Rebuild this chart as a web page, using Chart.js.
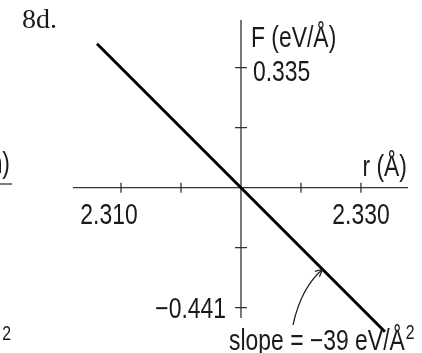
<!DOCTYPE html>
<html>
<head>
<meta charset="utf-8">
<script src="https://cdn.jsdelivr.net/npm/chart.js@4"></script>
<style>
  html, body { margin: 0; padding: 0; background: #fff; }
  #wrap { width: 422px; height: 353px; position: relative; }
</style>
</head>
<body>
<div id="wrap"><canvas id="chart"></canvas></div>
<script>
// data of the straight line F(r) near r0
const rValues = [2.308, 2.332];
const fValues = [0.468, -0.468];

// tick positions and labels
const xTicks = [2.310, 2.315, 2.325, 2.330];
const xTickLabels = ['2.310', '', '', '2.330'];
const yTicks = [0.39, 0.195, -0.195, -0.39];
const yTickLabels = ['0.335', '', '', '\u22120.441'];

// point on the line where the slope arrow lands
const arrowR = 2.3268;

const FONT = '"Liberation Sans", Arial, sans-serif';
const INK = '#1a1a1a';
const NARROW = 0.79; // squeeze Liberation Sans to look like a condensed face

// draw text squeezed horizontally, returns drawn width
function narrowText(ctx, txt, px, py, size, align) {
    ctx.save();
    ctx.font = size + 'px ' + FONT;
    ctx.textAlign = align || 'left';
    ctx.translate(px, py);
    ctx.scale(NARROW, 1);
    ctx.fillText(txt, 0, 0);
    const w = ctx.measureText(txt).width * NARROW;
    ctx.restore();
    return w;
}

// axes drawn through the origin, with ticks crossing both sides
const axesPlugin = {
    id: 'axes',
    beforeDatasetsDraw(chart) {
        const { ctx, chartArea: a, scales: { x, y } } = chart;
        const x0 = x.getPixelForValue(2.320);
        const y0 = y.getPixelForValue(0);
        ctx.save();
        ctx.strokeStyle = '#333';
        ctx.lineWidth = 1.3;
        ctx.beginPath();
        ctx.moveTo(a.left, y0); ctx.lineTo(a.right, y0);
        ctx.moveTo(x0, a.top); ctx.lineTo(x0, a.bottom);
        xTicks.forEach(v => {
            const px = x.getPixelForValue(v);
            ctx.moveTo(px, y0 - 5); ctx.lineTo(px, y0 + 5);
        });
        yTicks.forEach(v => {
            const py = y.getPixelForValue(v);
            ctx.moveTo(x0 - 6, py); ctx.lineTo(x0 + 6, py);
        });
        ctx.stroke();
        ctx.restore();
    },
    afterDraw(chart) {
        const { ctx, scales: { x, y } } = chart;
        const x0 = x.getPixelForValue(2.320);
        const y0 = y.getPixelForValue(0);
        ctx.save();
        ctx.fillStyle = INK;
        ctx.textBaseline = 'alphabetic';
        const fs = 29;

        // x tick labels
        xTicks.forEach((v, i) => {
            if (!xTickLabels[i]) return;
            const shift = i === 0 ? -12 : 0;
            narrowText(ctx, xTickLabels[i], x.getPixelForValue(v) + shift, y0 + 36, fs, 'center');
        });
        // y tick labels: positive on the right, negative on the left
        yTicks.forEach((v, i) => {
            if (!yTickLabels[i]) return;
            const py = y.getPixelForValue(v);
            if (v > 0) narrowText(ctx, yTickLabels[i], x0 + 12, py + 13, fs, 'left');
            else narrowText(ctx, yTickLabels[i], x0 - 15, py + 10, fs, 'right');
        });

        // axis titles
        narrowText(ctx, 'F (eV/\u00c5)', x0 + 10, 47, fs, 'left');
        narrowText(ctx, 'r (\u00c5)', 407, y0 - 12, fs, 'right');

        // slope label
        const w = narrowText(ctx, 'slope = \u221239 eV/\u00c5', 229, 350, fs, 'left');
        narrowText(ctx, '2', 229 + w + 1, 339, 20, 'left');

        // figure number
        ctx.font = '28px "Liberation Serif", "DejaVu Serif", serif';
        ctx.textAlign = 'left';
        ctx.fillText('8d.', 22, 28);

        // pieces of the neighbouring figure cut at the left edge
        narrowText(ctx, 'n)', 10, 173, fs, 'right');
        narrowText(ctx, '2', 11, 340, 20, 'right');
        ctx.strokeStyle = '#333';
        ctx.lineWidth = 1.3;
        ctx.beginPath();
        ctx.moveTo(0, 184); ctx.lineTo(12, 184);
        ctx.stroke();

        // curved arrow pointing at the line
        const slope = (fValues[1] - fValues[0]) / (rValues[1] - rValues[0]);
        const tipX = x.getPixelForValue(arrowR);
        const tipY = y.getPixelForValue(fValues[0] + (arrowR - rValues[0]) * slope);
        const sx = 293, sy = 325;
        const cx = 301, cy = 288;
        ctx.strokeStyle = INK;
        ctx.lineWidth = 1.2;
        ctx.beginPath();
        ctx.moveTo(sx, sy);
        ctx.quadraticCurveTo(cx, cy, tipX, tipY);
        ctx.stroke();
        const ang = Math.atan2(tipY - cy, tipX - cx);
        ctx.beginPath();
        ctx.moveTo(tipX - 8 * Math.cos(ang - 0.45), tipY - 8 * Math.sin(ang - 0.45));
        ctx.lineTo(tipX, tipY);
        ctx.lineTo(tipX - 8 * Math.cos(ang + 0.45), tipY - 8 * Math.sin(ang + 0.45));
        ctx.stroke();
        ctx.restore();
    }
};

const ctx = document.getElementById('chart').getContext('2d');
new Chart(ctx, {
    type: 'scatter',
    data: {
        datasets: [{
            data: rValues.map((r, i) => ({ x: r, y: fValues[i] })),
            showLine: true,
            borderColor: '#000',
            borderWidth: 3,
            pointRadius: 0,
            fill: false,
            clip: false
        }]
    },
    options: {
        responsive: true,
        maintainAspectRatio: false,
        animation: false,
        layout: { padding: { left: 73, right: 14, top: 20, bottom: 35 } },
        plugins: { legend: { display: false }, tooltip: { enabled: false } },
        scales: {
            x: { type: 'linear', display: false, min: 2.306, max: 2.33392 },
            y: { type: 'linear', display: false, min: -0.4235, max: 0.545 }
        }
    },
    plugins: [axesPlugin]
});
</script>
</body>
</html>
